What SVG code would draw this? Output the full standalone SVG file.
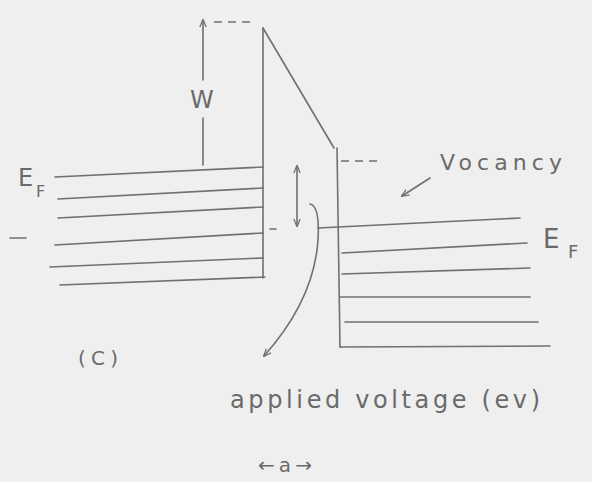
<svg xmlns="http://www.w3.org/2000/svg" width="592" height="482" viewBox="0 0 592 482">
<defs>
<style>
.ln{stroke:#707070;stroke-width:1.6;fill:none;stroke-linecap:round}
.dl{stroke:#707070;stroke-width:1.6;fill:none;stroke-dasharray:8 6}
.tx{font-family:"DejaVu Sans","Liberation Sans",sans-serif;fill:#6a6a6a}
</style>
<marker id="ah" viewBox="0 0 10 10" refX="9" refY="5" markerWidth="8" markerHeight="8" orient="auto-start-reverse" markerUnits="userSpaceOnUse">
<path d="M0,1 L10,5 L0,9" fill="none" stroke="#707070" stroke-width="1.6"/>
</marker>
</defs>
<rect width="592" height="482" fill="#efefef"/>
<g id="metal-left">
<line class="ln" x1="263" y1="28" x2="263" y2="278"/>
<line class="ln" x1="55" y1="177" x2="263" y2="167"/>
<line class="ln" x1="58" y1="199" x2="263" y2="188"/>
<line class="ln" x1="58" y1="218" x2="263" y2="207"/>
<line class="ln" x1="55" y1="245" x2="263" y2="233"/>
<line class="ln" x1="50" y1="267" x2="263" y2="258"/>
<line class="ln" x1="60" y1="285" x2="265" y2="277"/>
<line class="ln" x1="10" y1="238" x2="26" y2="238"/>
<text class="tx" x="18" y="186" font-size="24">E</text>
<text class="tx" x="36" y="197" font-size="16">F</text>
</g>
<g id="barrier">
<line class="ln" x1="263" y1="28" x2="334" y2="148"/>
</g>
<g id="metal-right">
<line class="ln" x1="337" y1="148" x2="340" y2="347"/>
<line class="ln" x1="318" y1="228" x2="520" y2="218"/>
<line class="ln" x1="342" y1="253" x2="527" y2="243"/>
<line class="ln" x1="342" y1="274" x2="530" y2="268"/>
<line class="ln" x1="340" y1="297" x2="530" y2="297"/>
<line class="ln" x1="345" y1="322" x2="538" y2="322"/>
<line class="ln" x1="340" y1="347" x2="550" y2="346"/>
<line class="dl" x1="341" y1="161" x2="383" y2="161"/>
<text class="tx" x="543" y="248" font-size="26">E</text>
<text class="tx" x="568" y="258" font-size="18">F</text>
</g>
<g id="work-function">
<line class="ln" x1="203" y1="165" x2="203" y2="118"/>
<line class="ln" x1="203" y1="80" x2="203" y2="20" marker-end="url(#ah)"/>
<line class="dl" x1="214" y1="22" x2="250" y2="22"/>
<text class="tx" x="190" y="108" font-size="24">W</text>
</g>
<g id="vacancy">
<text class="tx" x="440" y="170" font-size="22" textLength="122" lengthAdjust="spacing">Vocancy</text>
</g>
<g id="applied">
<line class="ln" x1="297" y1="166" x2="297" y2="226" marker-start="url(#ah)" marker-end="url(#ah)"/>
<line class="ln" x1="270" y1="229" x2="276" y2="229"/>
<text class="tx" x="230" y="408" font-size="24" textLength="310" lengthAdjust="spacing">applied voltage (ev)</text>
</g>
<g id="label-c">
<text class="tx" x="78" y="365" font-size="20" textLength="40" lengthAdjust="spacing">(C)</text>
</g>
<g id="lattice">
<text class="tx" x="258" y="472" font-size="20" textLength="54" lengthAdjust="spacing">←a→</text>
</g>
<g id="connectors">
<line class="ln" x1="430" y1="178" x2="402" y2="196" marker-end="url(#ah)"/>
<path class="ln" d="M310,204 Q320,206 318,240 Q314,300 264,356" marker-end="url(#ah)"/>
</g>
</svg>
